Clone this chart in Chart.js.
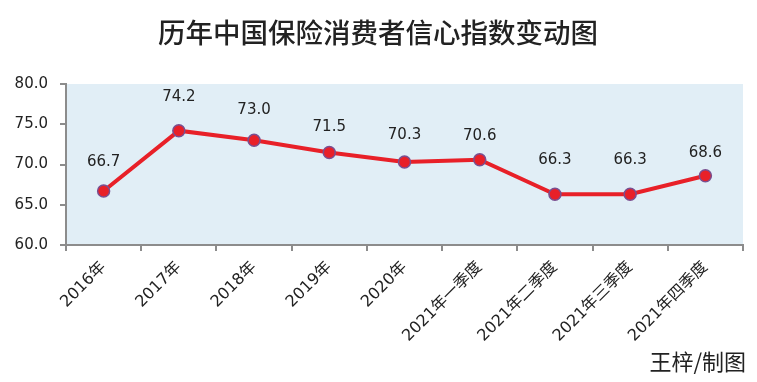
<!DOCTYPE html>
<html><head><meta charset="utf-8">
<script src="https://cdn.jsdelivr.net/npm/chart.js@4/dist/chart.umd.min.js"></script>
<style>html,body{margin:0;padding:0;background:#fff}#wrap{width:757px;height:382px;position:relative}</style>
</head><body><div id="wrap"><canvas id="c" width="757" height="382"></canvas></div>
<script>
const categories = ["2016年","2017年","2018年","2019年","2020年","2021年一季度","2021年二季度","2021年三季度","2021年四季度"];
const indexValues = [66.7, 74.2, 73.0, 71.5, 70.3, 70.6, 66.3, 66.3, 68.6];
const yTicks = [60, 65, 70, 75, 80];
const titleText = "历年中国保险消费者信心指数变动图";
const creditText = "王梓/制图";
// vertical gap (px) between each point and its value label, as placed in the reference
const labelGaps = [29, 34, 30, 25, 27, 24, 34, 34, 23];

const FONT = '"DejaVu Sans", "Noto Sans CJK SC", sans-serif';
const CJK = '"Noto Sans CJK SC", sans-serif';

const deco = {
  id: 'deco',
  beforeDraw(chart) {
    const {ctx, chartArea: a} = chart;
    ctx.save();
    ctx.fillStyle = '#e1eef6';
    ctx.fillRect(a.left, a.top, a.right - a.left, a.bottom - a.top);
    ctx.restore();
  },
  afterDraw(chart) {
    const ctx = chart.ctx;
    ctx.save();
    ctx.fillStyle = '#222';
    ctx.font = '500 27.5px ' + CJK;
    ctx.textAlign = 'center'; ctx.textBaseline = 'middle';
    ctx.fillText(titleText, 378, 33);
    ctx.font = '22px ' + CJK;
    ctx.textAlign = 'right';
    ctx.fillText(creditText, 746, 362);
    const meta = chart.getDatasetMeta(0);
    ctx.font = '15px ' + FONT;
    ctx.textAlign = 'center';
    ctx.fillStyle = '#222';
    meta.data.forEach((p, i) => {
      ctx.fillText(indexValues[i].toFixed(1), p.x, p.y - labelGaps[i]);
    });
    ctx.restore();
  }
};

new Chart(document.getElementById('c'), {
  type: 'line',
  data: {
    labels: categories,
    datasets: [{
      data: indexValues,
      borderColor: '#e82028',
      borderWidth: 4,
      backgroundColor: '#e82028',
      pointBackgroundColor: '#e82028',
      pointBorderColor: '#7a4f90',
      pointBorderWidth: 1.5,
      pointRadius: 6,
      tension: 0
    }]
  },
  options: {
    responsive: false,
    animation: false,
    layout: { padding: { top: 84, right: 14, left: 0, bottom: 0 } },
    plugins: { legend: { display: false }, tooltip: { enabled: false } },
    scales: {
      x: {
        offset: true,
        grid: { offset: true, drawOnChartArea: false, drawTicks: true, tickLength: 6, color: '#8c8c8c', lineWidth: 2 },
        border: { display: true, color: '#8c8c8c', width: 2 },
        ticks: { color: '#222', font: { family: FONT, size: 16 }, maxRotation: 45, minRotation: 45, padding: 7, autoSkip: false },
        afterFit(s) { s.height = 137; }
      },
      y: {
        min: 60, max: 80,
        afterBuildTicks(s) { s.ticks = yTicks.map(v => ({ value: v })); },
        grid: { drawOnChartArea: false, drawTicks: true, tickLength: 6, color: '#8c8c8c', lineWidth: 2 },
        border: { display: true, color: '#8c8c8c', width: 2 },
        ticks: { color: '#222', font: { family: FONT, size: 15 }, padding: 12, callback: v => Number(v).toFixed(1) },
        afterFit(s) { s.width = 66; }
      }
    }
  },
  plugins: [deco]
});
</script></body></html>
